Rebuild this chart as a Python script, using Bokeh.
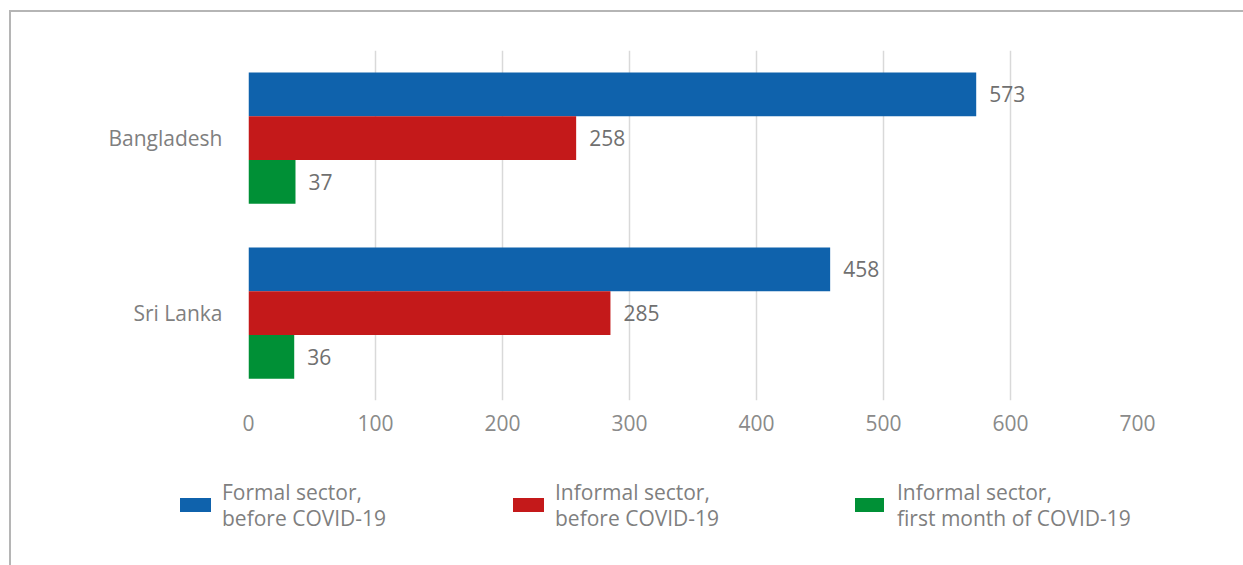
from bokeh.plotting import figure
from bokeh.layouts import column
from bokeh.models import ColumnDataSource, FactorRange, Range1d, FixedTicker, Div
from bokeh.transform import dodge
from bokeh.core.properties import value
from bokeh.embed import file_html
from bokeh.resources import INLINE

countries = ["Bangladesh", "Sri Lanka"]
formal_before = [573, 458]
informal_before = [258, 285]
informal_covid = [37, 36]
x_ticks = [0, 100, 200, 300, 400, 500, 600, 700]
series_names = [["Formal sector,", "before COVID-19"],
                ["Informal sector,", "before COVID-19"],
                ["Informal sector,", "first month of COVID-19"]]
colors = ["#0f62ac", "#c4191a", "#009036"]

FONT = "Open Sans"

p = figure(width=1232, height=428, output_backend="svg", toolbar_location=None,
           y_range=FactorRange(*reversed(countries)), x_range=Range1d(0, 700),
           min_border_left=237, min_border_right=106, min_border_top=38, min_border_bottom=40)
p.outline_line_color = None

src = ColumnDataSource(dict(country=countries,
                            v0=formal_before, v1=informal_before, v2=informal_covid,
                            t0=[str(v) for v in formal_before],
                            t1=[str(v) for v in informal_before],
                            t2=[str(v) for v in informal_covid]))

offsets = [0.25, 0.0, -0.25]
for i, (off, col) in enumerate(zip(offsets, colors)):
    p.hbar(y=dodge("country", off, range=p.y_range), right=f"v{i}", left=0, height=0.25,
           source=src, fill_color=col, line_color=None)
    p.text(x=f"v{i}", y=dodge("country", off, range=p.y_range), text=f"t{i}", source=src,
           x_offset=13, text_baseline="middle", text_align="left",
           text_font=value(FONT), text_font_size="21px", text_color="#707070")

p.xaxis.ticker = FixedTicker(ticks=x_ticks)
p.xaxis.axis_line_color = None
p.xaxis.major_tick_line_color = None
p.xaxis.minor_tick_line_color = None
p.xaxis.major_label_text_font = FONT
p.xaxis.major_label_text_font_size = "21px"
p.xaxis.major_label_text_color = "#8a8a8a"
p.xaxis.major_label_standoff = 8

p.yaxis.axis_line_color = None
p.yaxis.major_tick_line_color = None
p.yaxis.minor_tick_line_color = None
p.yaxis.major_label_text_font = FONT
p.yaxis.major_label_text_font_size = "21px"
p.yaxis.major_label_text_color = "#7f7f7f"
p.yaxis.major_label_standoff = 20

p.xgrid.grid_line_color = "#d9d9d9"
p.xgrid.grid_line_width = 1.5
p.ygrid.grid_line_color = None

# legend below the chart, as HTML
item_left = [169, 502, 844]
swatch_w = [31, 31, 29]
parts = []
for (l1, l2), col, x0, sw in zip(series_names, colors, item_left, swatch_w):
    parts.append(
        f'<div style="position:absolute;left:{x0}px;top:58px;width:{sw}px;height:14px;background:{col};"></div>'
        f'<div style="position:absolute;left:{x0 + 42}px;top:39px;white-space:nowrap;'
        f'font-family:\'{FONT}\';font-size:21px;line-height:26px;color:#7f7f7f;">{l1}<br>{l2}</div>'
    )
legend_html = ('<div style="position:relative;width:1232px;height:125px;">' + "".join(parts) + "</div>")
legend_div = Div(text=legend_html, width=1232, height=125, styles={"margin": "0", "padding": "0"})

layout = column(p, legend_div, spacing=0,
                styles={"border-top": "2px solid #b5b5b5", "border-left": "2px solid #b5b5b5",
                        "margin-left": "9px", "margin-top": "10px"})

open("out.html", "w").write(file_html(layout, INLINE))
